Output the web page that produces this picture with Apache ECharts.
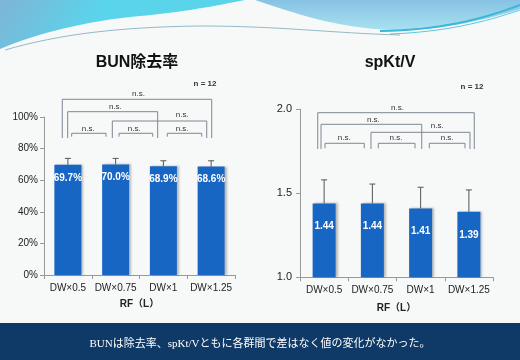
<!DOCTYPE html>
<html><head><meta charset="utf-8">
<script src="https://cdn.jsdelivr.net/npm/echarts@6/dist/echarts.min.js"></script>
<style>html,body{margin:0;padding:0;background:#f7f8f8}#c{width:520px;height:360px}</style>
</head><body><div id="c"></div>
<script>
// ---- data ----
const categories = ['DW×0.5', 'DW×0.75', 'DW×1', 'DW×1.25'];
const bunValues = [69.7, 70.0, 68.9, 68.6];
const bunSD = [4.1, 3.8, 3.4, 3.7];
const ktvValues = [1.44, 1.44, 1.41, 1.39];
const ktvSD = [0.14, 0.115, 0.126, 0.13];
const bracketPairs = [[0, 3], [0, 2], [1, 3], [0, 1], [1, 2], [2, 3]];
const bracketText = 'n.s.';
const bunTicks = [0, 20, 40, 60, 80, 100];
const ktvTicks = [1.0, 1.5, 2.0];
const axisName = 'RF（L）';
const titles = ['BUN除去率', 'spKt/V'];
const nText = 'n = 12';
const footer = 'BUNは除去率、spKt/Vともに各群間で差はなく値の変化がなかった。';

// ---- layout (pixel styling for annotation brackets) ----
// [top offset from grid top, left dx, right dx, leg bottom offset, label fraction, label dy]
const bracketLayout = [
  [[-17.7, -5.6, 0.6, 21, 0.51, -6], [-5.3, -0.2, -5.7, 21, 0.53, -5], [4, -3.3, -4.4, 21, 0.74, -6],
   [16.3, 3.8, -9.6, 19.7, 0.48, -5], [16.3, 3.4, -10.7, 19.7, 0.45, -5], [16.3, 3.9, -9.4, 19.7, 0.43, -5]],
  [[3.4, -6.4, 5.4, 39.7, 0.51, -5], [15, -3.1, 1.1, 39.7, 0.52, -5], [23, -1.4, 1.1, 39.7, 0.67, -7],
   [34, 0.9, -8.1, 39, 0.49, -6], [34, 5.9, -5.6, 39, 0.48, -6], [34, 8.7, -3.9, 39, 0.5, -6]]
];

const chart = echarts.init(document.getElementById('c'), null, {renderer: 'canvas'});
const latin = '"Liberation Sans", Arial, "Noto Sans CJK JP", sans-serif';
const barColor = '#1766c4';
const lineGray = '#7d8894';
function lin(x2, y2, stops) {
  return {type: 'linear', x: 0, y: 0, x2: x2, y2: y2, global: false,
          colorStops: stops.map(s => ({offset: s[0], color: s[1]}))};
}
// sample a chain of cubic bezier segments into points (decoration only)
function curve(start, segs) {
  const pts = [start.slice()];
  let p0 = start;
  segs.forEach(s => {
    const [c1, c2, p3] = s;
    for (let k = 1; k <= 16; k++) {
      const t = k / 16, u = 1 - t;
      pts.push([
        u*u*u*p0[0] + 3*u*u*t*c1[0] + 3*u*t*t*c2[0] + t*t*t*p3[0],
        u*u*u*p0[1] + 3*u*u*t*c1[1] + 3*u*t*t*c2[1] + t*t*t*p3[1]
      ]);
    }
    p0 = p3;
  });
  return pts;
}

function errRender(params, api) {
  const i = api.value(0), v = api.value(1), sd = api.value(2);
  const p0 = api.coord([i, v]);
  const p1 = api.coord([i, v + sd]);
  const st = {stroke: '#555', lineWidth: 1};
  return {type: 'group', children: [
    {type: 'line', shape: {x1: p0[0], y1: p0[1], x2: p1[0], y2: p1[1]}, style: st},
    {type: 'line', shape: {x1: p1[0] - 3, y1: p1[1], x2: p1[0] + 3, y2: p1[1]}, style: st}
  ]};
}
function makeBracketRender(chartIdx, ymax, ymin) {
  return function (params, api) {
    const i = api.value(0), j = api.value(1);
    const L = bracketLayout[chartIdx][params.dataIndex];
    const top = api.coord([0, ymax])[1];
    const xi = api.coord([i, ymin])[0] + L[1];
    const xj = api.coord([j, ymin])[0] + L[2];
    const yt = top + L[0], yb = top + L[3];
    const st = {stroke: lineGray, lineWidth: 1, fill: 'none'};
    return {type: 'group', children: [
      {type: 'polyline', shape: {points: [[xi, yb], [xi, yt], [xj, yt], [xj, yb]]}, style: st},
      {type: 'text', x: xi + (xj - xi) * L[4], y: yt + L[5],
       style: {text: bracketText, fill: '#333', font: '8px ' + latin, align: 'center', verticalAlign: 'middle'}}
    ]};
  };
}

const errBun = categories.map((c, i) => [i, bunValues[i], bunSD[i]]);
const errKtv = categories.map((c, i) => [i, ktvValues[i], ktvSD[i]]);
const brData = bracketPairs.map(p => [p[0], p[1]]);

const xAxisBase = {
  type: 'category', data: categories,
  axisLine: {lineStyle: {color: '#999'}},
  axisTick: {show: true, length: 4, lineStyle: {color: '#999'}},
  axisLabel: {color: '#222', fontSize: 10, fontFamily: latin, margin: 8, interval: 0},
  name: axisName, nameLocation: 'middle',
  nameTextStyle: {color: '#222', fontSize: 10, fontWeight: 'bold', fontFamily: latin}
};

const leftWave = curve([245, 0], [[[205, 8], [175, 13], [140, 16]], [[85, 21], [35, 34], [0, 49]]]);
const rightWave = curve([520, 9], [[[480, 22], [435, 31], [392, 30]], [[335, 28], [295, 13], [255, 0]]]);

chart.setOption({
  animation: false,
  backgroundColor: '#f7f8f8',
  grid: [
    {left: 44, top: 117, width: 191, height: 158},
    {left: 300, top: 109.3, width: 193, height: 168}
  ],
  xAxis: [
    Object.assign({}, xAxisBase, {gridIndex: 0, nameGap: 24}),
    Object.assign({}, xAxisBase, {gridIndex: 1, nameGap: 26})
  ],
  yAxis: [
    {type: 'value', gridIndex: 0, min: bunTicks[0], max: bunTicks[bunTicks.length - 1], interval: 20,
     axisLine: {show: true, lineStyle: {color: '#999'}},
     axisTick: {show: true, length: 4, lineStyle: {color: '#999'}},
     splitLine: {show: false},
     axisLabel: {formatter: '{value}%', color: '#222', fontSize: 10, fontFamily: latin, margin: 6}},
    {type: 'value', gridIndex: 1, min: ktvTicks[0], max: ktvTicks[ktvTicks.length - 1], interval: 0.5,
     axisLine: {show: true, lineStyle: {color: '#999'}},
     axisTick: {show: true, length: 4, lineStyle: {color: '#999'}},
     splitLine: {show: false},
     axisLabel: {formatter: v => v.toFixed(1), color: '#222', fontSize: 11, fontFamily: latin, margin: 8}}
  ],
  series: [
    {type: 'bar', xAxisIndex: 0, yAxisIndex: 0, data: bunValues, barWidth: 27,
     itemStyle: {color: barColor, shadowColor: 'rgba(0,0,0,0.25)', shadowOffsetX: 2, shadowBlur: 2},
     label: {show: true, position: 'insideTop', distance: 8, formatter: p => p.value.toFixed(1) + '%',
             color: '#fff', fontWeight: 'bold', fontSize: 10, fontFamily: latin}},
    {type: 'custom', xAxisIndex: 0, yAxisIndex: 0, data: errBun, renderItem: errRender, z: 5,
     encode: {x: 0, y: 1}},
    {type: 'custom', xAxisIndex: 0, yAxisIndex: 0, data: brData, renderItem: makeBracketRender(0, 100, 0),
     z: 5, silent: true, encode: {x: [0, 1]}},
    {type: 'bar', xAxisIndex: 1, yAxisIndex: 1, data: ktvValues, barWidth: 23,
     itemStyle: {color: barColor, shadowColor: 'rgba(0,0,0,0.25)', shadowOffsetX: 2, shadowBlur: 2},
     label: {show: true, position: 'insideTop', distance: 18, formatter: p => p.value.toFixed(2),
             color: '#fff', fontWeight: 'bold', fontSize: 10, fontFamily: latin}},
    {type: 'custom', xAxisIndex: 1, yAxisIndex: 1, data: errKtv, renderItem: errRender, z: 5,
     encode: {x: 0, y: 1}},
    {type: 'custom', xAxisIndex: 1, yAxisIndex: 1, data: brData, renderItem: makeBracketRender(1, 2.0, 1.0),
     z: 5, silent: true, encode: {x: [0, 1]}}
  ],
  graphic: [
    // header decoration
    {type: 'polygon', z: 1, shape: {points: [[0, 0]].concat(leftWave)},
     style: {fill: lin(0.3, 1, [[0, '#7fb4d6'], [1, '#5ad4ea']])}},
    {type: 'polygon', z: 1, shape: {points: [[520, 0]].concat(rightWave)},
     style: {fill: lin(0, 1, [[0, '#86c2e4'], [1, '#a9e1ef']])}},
    {type: 'polyline', z: 1, shape: {points: curve([380, 31], [[[440, 30], [480, 20], [520, 5]]])},
     style: {stroke: '#3cb6d9', lineWidth: 2, fill: 'none'}},
    {type: 'polyline', z: 1, shape: {points: curve([390, 34], [[[445, 32], [485, 22], [520, 10]]])},
     style: {stroke: '#5cc7e0', lineWidth: 1, fill: 'none'}},
    {type: 'polyline', z: 1, shape: {points: curve([5, 50], [[[60, 34], [120, 27], [200, 26]], [[280, 26], [330, 33], [400, 35]]])},
     style: {stroke: '#7aaabb', lineWidth: 0.8, fill: 'none'}},
    // titles
    {type: 'text', x: 137, y: 63, z: 10, style: {text: titles[0], font: 'bold 16px ' + latin, fill: '#111',
     align: 'center', verticalAlign: 'middle'}},
    {type: 'text', x: 390, y: 63, z: 10, style: {text: titles[1], font: 'bold 16px ' + latin, fill: '#111',
     align: 'center', verticalAlign: 'middle'}},
    {type: 'text', x: 205, y: 84, z: 10, style: {text: nText, font: 'bold 8px ' + latin, fill: '#333',
     align: 'center', verticalAlign: 'middle'}},
    {type: 'text', x: 472, y: 87, z: 10, style: {text: nText, font: 'bold 8px ' + latin, fill: '#333',
     align: 'center', verticalAlign: 'middle'}},
    // footer banner
    {type: 'rect', z: 10, shape: {x: 0, y: 323, width: 520, height: 37}, style: {fill: '#0f3a67'}},
    {type: 'text', x: 260, y: 344, z: 11, style: {text: footer,
     font: '11px "Liberation Serif", "Noto Sans CJK JP", serif', fill: '#fff', align: 'center', verticalAlign: 'middle'}}
  ]
});
</script></body></html>
